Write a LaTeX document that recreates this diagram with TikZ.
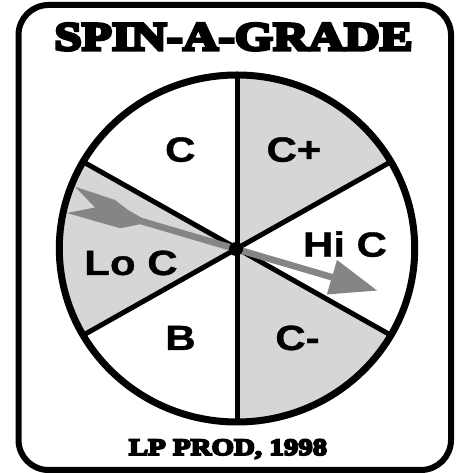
\documentclass[tikz,border=0pt]{standalone}
\usepackage{fontspec}
\newfontfamily\labfont[FakeStretch=1.2,FakeBold=1]{Liberation Sans}
\newfontfamily\stencilfont[FakeStretch=1.23,FakeBold=8]{Liberation Serif}
\begin{document}
\begin{tikzpicture}[x=1pt,y=1pt,
  lab/.style={font=\labfont\bfseries\fontsize{35}{35}\selectfont, inner sep=0pt, anchor=base},
  titletext/.style={font=\stencilfont\bfseries\fontsize{40}{40}\selectfont, inner sep=0pt, anchor=base},
  credittext/.style={font=\stencilfont\bfseries\fontsize{23.5}{24}\selectfont, inner sep=0pt, anchor=base},
  shadefill/.style={fill=black!16},
  divider/.style={line width=5pt},
  rim/.style={line width=7pt},
  frame/.style={line width=6pt, rounded corners=30pt},
  pointer/.style={fill=black!48}]
\useasboundingbox (0,0) rectangle (461,473);
\fill[white] (0,0) rectangle (461,473);
\coordinate (O) at (237,224.5);
% shaded sectors
\fill[shadefill] (O) -- ++(30:177.7pt and 173.5pt) arc[start angle=30, end angle=90, x radius=177.7pt, y radius=173.5pt] -- cycle;
\fill[shadefill] (O) -- ++(150:177.7pt and 173.5pt) arc[start angle=150, end angle=210, x radius=177.7pt, y radius=173.5pt] -- cycle;
\fill[shadefill] (O) -- ++(270:177.7pt and 173.5pt) arc[start angle=270, end angle=330, x radius=177.7pt, y radius=173.5pt] -- cycle;
% rim points
\path (O) ++(30:177.7pt and 173.5pt) coordinate (e30);
\path (O) ++(90:177.7pt and 173.5pt) coordinate (e90);
\path (O) ++(150:177.7pt and 173.5pt) coordinate (e150);
\path (O) ++(210:177.7pt and 173.5pt) coordinate (e210);
\path (O) ++(270:177.7pt and 173.5pt) coordinate (e270);
\path (O) ++(330:177.7pt and 173.5pt) coordinate (e330);
\foreach \e in {e30,e90,e150,e210,e270,e330} \draw[divider] (O) -- (\e);
\draw[rim] (O) ellipse[x radius=177.7pt, y radius=173.5pt];
% labels
\node[lab] (c) at (180.3,311.3) {C};
\node[lab] (cplus) at (294,311.3) {C+};
\node[lab] (hic) at (345,216.3) {Hi C};
\node[lab] (loc) at (131,198) {Lo C};
\node[lab] (b) at (180.5,123) {B};
\node[lab] (cminus) at (297.5,123) {C-};
% spinner arrow
\begin{scope}[shift={(236,224)}, rotate=-16.4]
\fill[pointer] (-172,14.3) -- (-130,12.9) -- (-114.6,6.9) -- (-99,3.3) -- (100,3.3) -- (100,18) -- (147,0) -- (100,-18) -- (100,-3.3) -- (-99,-3.3) -- (-117,-12.8) -- (-172.3,-13.2) -- (-147,0) -- cycle;
\end{scope}
\node[circle, fill=black, inner sep=0pt, minimum size=14pt] (hub) at (236,224) {};
% frame and texts
\draw[frame] (18.5,3) rectangle (451,468);
\node[titletext] (title) at (233.5,423) {SPIN-A-GRADE};
\node[credittext] (credit) at (228,18) {LP PROD, 1998};
\end{tikzpicture}
\end{document}
